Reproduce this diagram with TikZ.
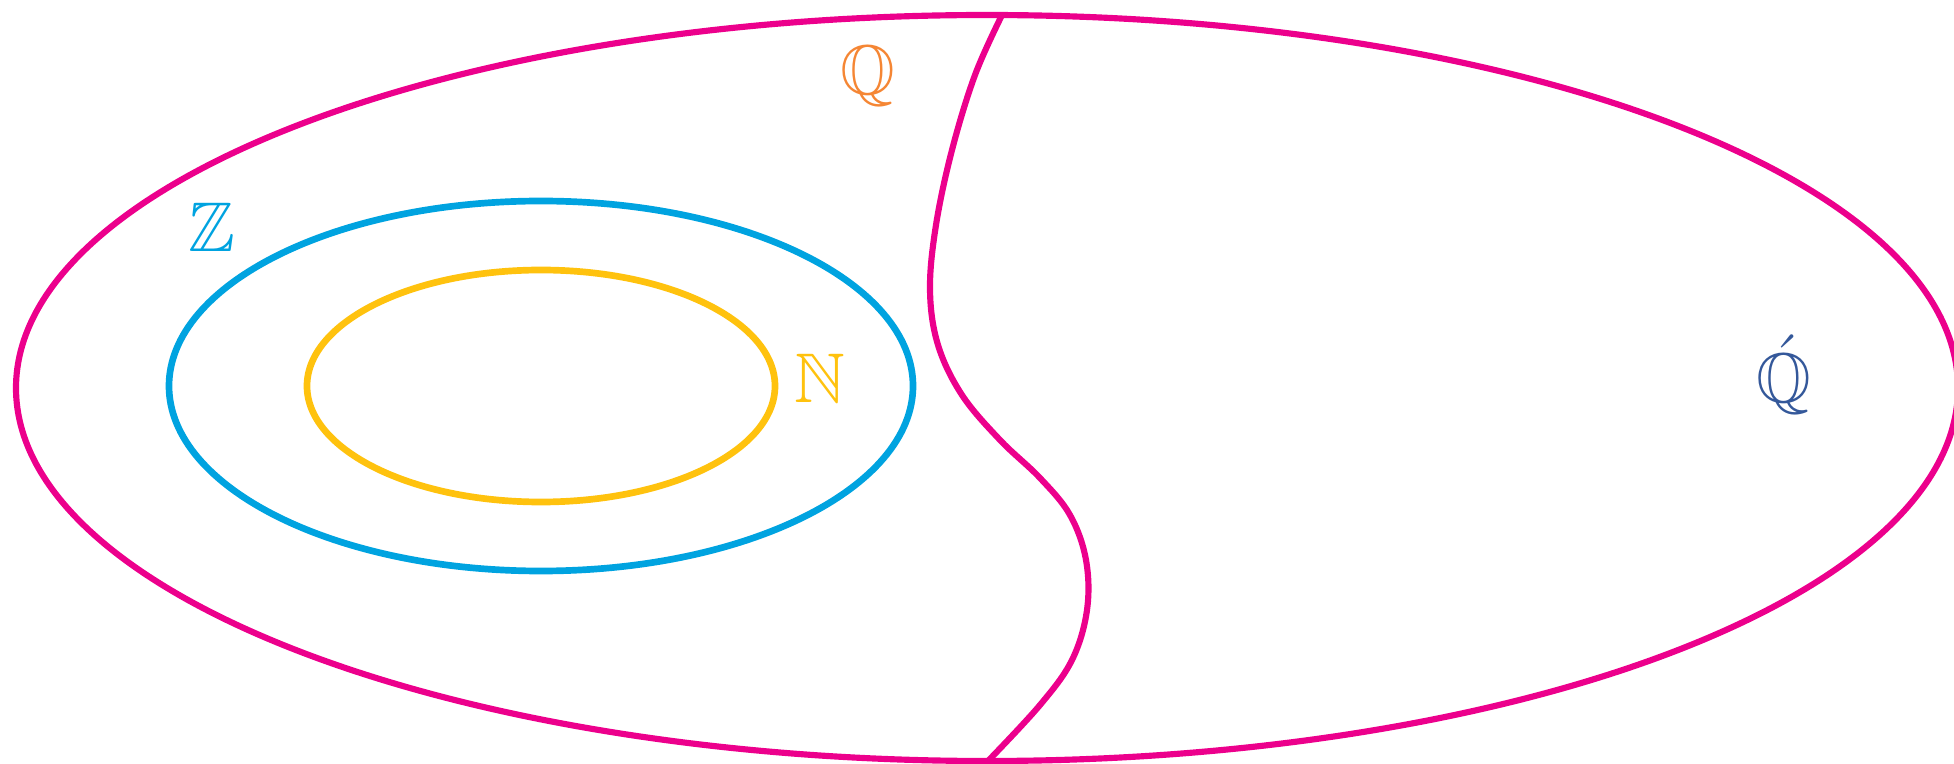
\documentclass[tikz,border=0pt]{standalone}
\usepackage{amssymb}
\definecolor{cmag}{HTML}{EC008C}
\definecolor{ccyan}{HTML}{00A3E0}
\definecolor{cyel}{HTML}{FFC20E}
\definecolor{corange}{HTML}{F58634}
\definecolor{cblue}{HTML}{34589A}
\begin{document}
\begin{tikzpicture}[x=0.01cm,y=-0.01cm,
  setline/.style={line width=1.75pt},
  subline/.style={line width=1.9pt},
  lab/.style={font=\fontsize{20}{22}\selectfont,inner sep=0pt,anchor=base}]
\useasboundingbox (0,0) rectangle (1954,764);
\clip (0,0) rectangle (1954,764);
% outer set
\draw[setline,cmag] (987,388) ellipse [x radius=971, y radius=373];
% dividing curve
\draw[setline,cmag] plot[smooth,tension=0.6] coordinates {(1002,15) (975,75) (952,150) (936,225) (930,290) (938,345) (962,395) (1000,440) (1040,478) (1070,515) (1086,560) (1087,610) (1072,660) (1040,705) (988,761)};
% integers and naturals
\draw[subline,ccyan] (541,386) ellipse [x radius=372, y radius=185];
\draw[subline,cyel] (541,386) ellipse [x radius=234, y radius=116];
% labels
\node[lab,text=corange] (q) at (868,95) {$\mathbb{Q}$};
\node[lab,text=ccyan] (z) at (212,252) {$\mathbb{Z}$};
\node[lab,text=cyel] (n) at (820,403) {$\mathbb{N}$};
\node[lab,text=cblue] (qi) at (1784,403) {$\acute{\mathbb{Q}}$};
\end{tikzpicture}
\end{document}
